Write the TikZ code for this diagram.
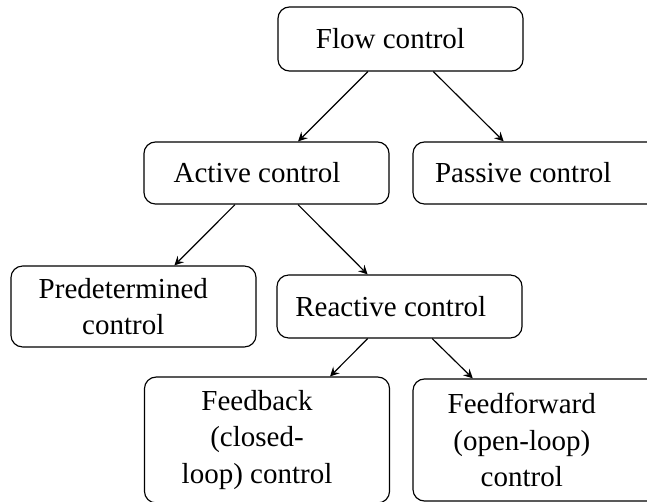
\documentclass[tikz,border=0pt]{standalone}
\usepackage{fontspec}
\setmainfont{Liberation Serif}
\usetikzlibrary{arrows}

\tikzset{
  box/.style={draw, rounded corners, minimum width=84.5pt, inner sep=0pt},
  lbl/.style={align=center, inner sep=0pt, font=\linespread{1.04}\selectfont}
}

\begin{document}
\begin{tikzpicture}[x=0.3448pt, y=-0.3448pt]
    \useasboundingbox (0,0) rectangle (647,502);
    \clip (0,0) rectangle (647,502);

    % Boxes
    \node [box, minimum height=22.1pt] (flow) at (400.5,39) {};
    \node [box, minimum height=21.4pt] (active) at (266.5,173) {};
    \node [box, minimum height=21.4pt] (passive) at (535.5,173) {};
    \node [box, minimum height=27.9pt] (predet) at (133.5,306.5) {};
    \node [box, minimum height=21.7pt] (reactive) at (399.5,306.5) {};
    \node [box, minimum height=43.4pt] (feedback) at (267,440) {};
    \node [box, minimum height=42.1pt] (feedfwd) at (535.5,440) {};

    % Labels
    \node [lbl] (flowtxt) at (390.5,39) {Flow control};
    \node [lbl] (activetxt) at (257,173) {Active control};
    \node [lbl] (passivetxt) at (523.3,173) {Passive control};
    \node [lbl] (predettxt) at (123.3,306.5) {Predetermined\\control};
    \node [lbl] (reactivetxt) at (390.8,306.5) {Reactive control};
    \node [lbl] (feedbacktxt) at (257,440) {Feedback\\(closed-\\loop) control};
    \node [lbl] (feedfwdtxt) at (521.8,440) {Feedforward\\(open-loop)\\control};

    % Edges
    \draw [-stealth] (flow) -- (active);
    \draw [-stealth] (flow) -- (passive);
    \draw [-stealth] (active) -- (predet);
    \draw [-stealth] (active) -- (reactive);
    \draw [-stealth] (reactive) -- (feedback);
    \draw [-stealth] (reactive) -- (feedfwd);
\end{tikzpicture}
\end{document}
